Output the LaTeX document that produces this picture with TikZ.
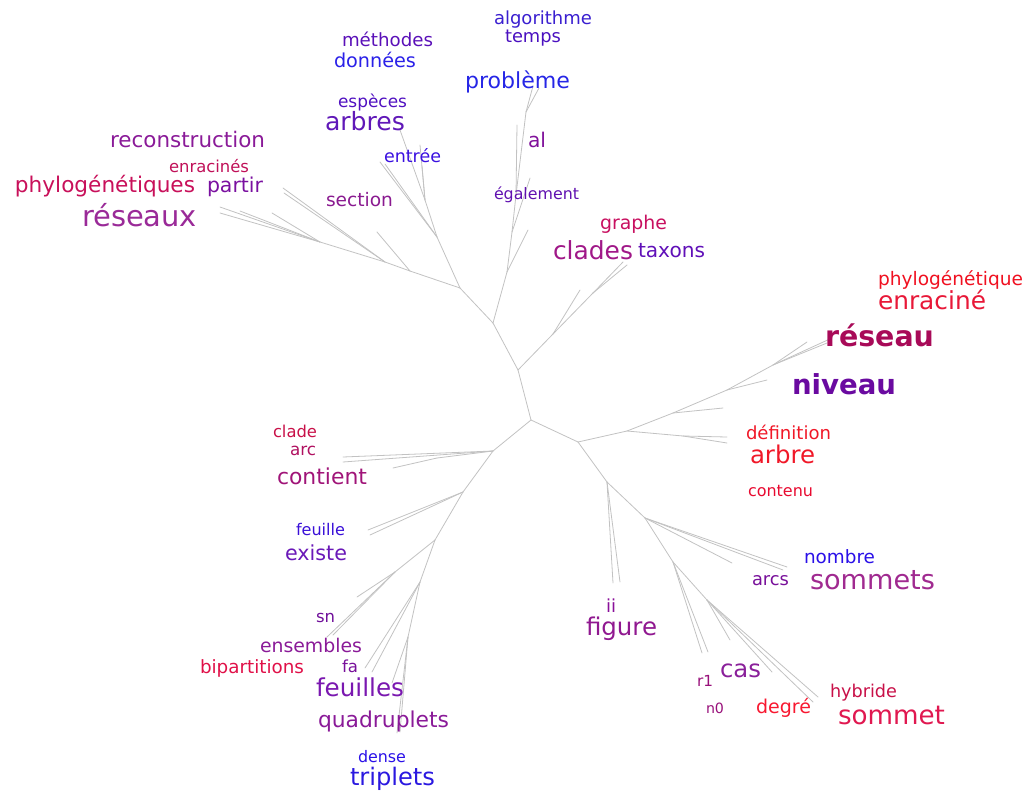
\documentclass[tikz,border=0pt]{standalone}
\usepackage{fontspec}
\setmainfont{DejaVu Sans}
\usepackage{graphicx}
\tikzset{
  word/.style={inner sep=0pt, outer sep=0pt, anchor=base west},
  branch/.style={draw=black!24, line width=0.8pt, line cap=round}
}
\newcommand\lbl[6]{\node[word] (#1) at (#2,#3) {\color[HTML]{#5}\resizebox{#4pt}{!}{#6}};}
\begin{document}
\begin{tikzpicture}[x=1pt,y=-1pt]
\useasboundingbox (0,0) rectangle (1026,793);
% ---------- internal nodes ----------
\coordinate (A) at (531,420);
\coordinate (B) at (518,370);
\coordinate (C) at (578,442);
\coordinate (N1) at (493,451);
\coordinate (T) at (493,323);
\coordinate (K1) at (553,334);
\coordinate (K2) at (593,293);
\coordinate (U1) at (507,272);
\coordinate (U2) at (512,232);
\coordinate (U3) at (516,195);
\coordinate (U4) at (526,112);
\coordinate (L1) at (460,288);
\coordinate (L2) at (410,271);
\coordinate (L3) at (385,262);
\coordinate (L4) at (320,242);
\coordinate (L5) at (437,237);
\coordinate (L6) at (425,200);
\coordinate (R1) at (627,431);
\coordinate (R1b) at (683,436);
\coordinate (R2) at (673,413);
\coordinate (R3) at (727,390);
\coordinate (R4) at (773,365);
\coordinate (D1) at (607,482);
\coordinate (D2) at (645,518);
\coordinate (D3) at (673,562);
\coordinate (D4) at (707,600);
\coordinate (N1b) at (437,458);
\coordinate (N2) at (463,492);
\coordinate (N3) at (435,540);
\coordinate (N3b) at (395,572);
\coordinate (N4) at (420,582);
\coordinate (N5) at (408,637);
% ---------- leaves ----------
\coordinate (k1) at (580,290);
\coordinate (k2) at (623,262);
\coordinate (k3) at (627,265);
\coordinate (u1) at (528,230);
\coordinate (u2) at (530,178);
\coordinate (u3) at (517,125);
\coordinate (u4) at (533,86);
\coordinate (u5) at (539,88);
\coordinate (l1) at (377,232);
\coordinate (l2) at (283,188);
\coordinate (l3) at (284,193);
\coordinate (l4) at (272,213);
\coordinate (l5) at (220,207);
\coordinate (l6) at (220,213);
\coordinate (l7) at (240,211);
\coordinate (l8) at (380,162);
\coordinate (l9) at (385,164);
\coordinate (l10) at (400,130);
\coordinate (l11) at (420,145);
\coordinate (l12) at (422,166);
\coordinate (r1) at (727,437);
\coordinate (r2) at (727,443);
\coordinate (r3) at (723,408);
\coordinate (r4) at (767,380);
\coordinate (r5) at (807,342);
\coordinate (r6) at (827,343);
\coordinate (r7) at (832,338);
\coordinate (d1) at (613,583);
\coordinate (d2) at (620,582);
\coordinate (d3) at (787,567);
\coordinate (d4) at (783,570);
\coordinate (d5) at (732,563);
\coordinate (d6) at (702,653);
\coordinate (d7) at (708,652);
\coordinate (d8) at (730,640);
\coordinate (d9) at (772,672);
\coordinate (d10) at (813,702);
\coordinate (d11) at (818,697);
\coordinate (n1) at (343,457);
\coordinate (n2) at (343,462);
\coordinate (n3) at (393,468);
\coordinate (n4) at (368,530);
\coordinate (n5) at (370,535);
\coordinate (n6) at (357,597);
\coordinate (n7) at (327,637);
\coordinate (n8) at (333,635);
\coordinate (n9) at (365,668);
\coordinate (n10) at (372,672);
\coordinate (n11) at (392,683);
\coordinate (n12) at (397,733);
\coordinate (n13) at (400,732);
% ---------- branches ----------
\draw[branch] (A) -- (B);
\draw[branch] (A) -- (C);
\draw[branch] (A) -- (N1);
\draw[branch] (B) -- (T);
\draw[branch] (B) -- (K1);
\draw[branch] (K1) -- (k1);
\draw[branch] (K1) -- (K2);
\draw[branch] (K2) -- (k2);
\draw[branch] (K2) -- (k3);
\draw[branch] (T) -- (U1);
\draw[branch] (U1) -- (u1);
\draw[branch] (U1) -- (U2);
\draw[branch] (U2) -- (u2);
\draw[branch] (U2) -- (U3);
\draw[branch] (U3) -- (u3);
\draw[branch] (U3) -- (U4);
\draw[branch] (U4) -- (u4);
\draw[branch] (U4) -- (u5);
\draw[branch] (T) -- (L1);
\draw[branch] (L1) -- (L2);
\draw[branch] (L2) -- (l1);
\draw[branch] (L2) -- (L3);
\draw[branch] (L3) -- (l2);
\draw[branch] (L3) -- (l3);
\draw[branch] (L3) -- (L4);
\draw[branch] (L4) -- (l4);
\draw[branch] (L4) -- (l5);
\draw[branch] (L4) -- (l6);
\draw[branch] (L4) -- (l7);
\draw[branch] (L1) -- (L5);
\draw[branch] (L5) -- (l8);
\draw[branch] (L5) -- (l9);
\draw[branch] (L5) -- (L6);
\draw[branch] (L6) -- (l10);
\draw[branch] (L6) -- (l11);
\draw[branch] (L6) -- (l12);
\draw[branch] (C) -- (R1);
\draw[branch] (R1) -- (R1b);
\draw[branch] (R1b) -- (r1);
\draw[branch] (R1b) -- (r2);
\draw[branch] (R1) -- (R2);
\draw[branch] (R2) -- (r3);
\draw[branch] (R2) -- (R3);
\draw[branch] (R3) -- (r4);
\draw[branch] (R3) -- (R4);
\draw[branch] (R4) -- (r5);
\draw[branch] (R4) -- (r6);
\draw[branch] (R4) -- (r7);
\draw[branch] (C) -- (D1);
\draw[branch] (D1) -- (d1);
\draw[branch] (D1) -- (d2);
\draw[branch] (D1) -- (D2);
\draw[branch] (D2) -- (d3);
\draw[branch] (D2) -- (d4);
\draw[branch] (D2) -- (d5);
\draw[branch] (D2) -- (D3);
\draw[branch] (D3) -- (d6);
\draw[branch] (D3) -- (d7);
\draw[branch] (D3) -- (D4);
\draw[branch] (D4) -- (d8);
\draw[branch] (D4) -- (d9);
\draw[branch] (D4) -- (d10);
\draw[branch] (D4) -- (d11);
\draw[branch] (N1) -- (n1);
\draw[branch] (N1) -- (n2);
\draw[branch] (N1) -- (N1b);
\draw[branch] (N1b) -- (n3);
\draw[branch] (N1) -- (N2);
\draw[branch] (N2) -- (n4);
\draw[branch] (N2) -- (n5);
\draw[branch] (N2) -- (N3);
\draw[branch] (N3) -- (N3b);
\draw[branch] (N3b) -- (n6);
\draw[branch] (N3b) -- (n7);
\draw[branch] (N3b) -- (n8);
\draw[branch] (N3) -- (N4);
\draw[branch] (N4) -- (n9);
\draw[branch] (N4) -- (n10);
\draw[branch] (N4) -- (N5);
\draw[branch] (N5) -- (n11);
\draw[branch] (N5) -- (n12);
\draw[branch] (N5) -- (n13);
% ---------- words ----------
\lbl{algorithme}{494}{24}{98}{3A1FD0}{algorithme}
\lbl{temps}{505}{42}{56}{4A10C0}{temps}
\lbl{methodes}{342}{46}{91}{5A10B8}{méthodes}
\lbl{donnees}{334}{67}{82}{2A20E8}{données}
\lbl{probleme}{465}{88}{105}{2626E6}{problème}
\lbl{especes}{338}{107}{69}{5010C0}{espèces}
\lbl{arbres}{325}{130}{80}{6018B8}{arbres}
\lbl{reconstruction}{110}{147}{155}{8A1A98}{reconstruction}
\lbl{al}{528}{147}{18}{80109A}{al}
\lbl{enracines}{169}{172}{80}{C01058}{enracinés}
\lbl{entree}{384}{162}{57}{3A10E0}{entrée}
\lbl{phylogenetiques}{15}{192}{180}{C8105A}{phylogénétiques}
\lbl{partir}{207}{192}{56}{7A10A0}{partir}
\lbl{section}{326}{206}{67}{8A1A90}{section}
\lbl{egalement}{494}{199}{85}{6010B0}{également}
\lbl{reseaux}{82}{226}{115}{9A2A98}{réseaux}
\lbl{graphe}{600}{229}{67}{C81060}{graphe}
\lbl{clades}{553}{259}{80}{A01888}{clades}
\lbl{taxons}{638}{257}{67}{6010B8}{taxons}
\lbl{phylogenetique}{878}{285}{145}{F01020}{phylogénétique}
\lbl{enracine}{878}{309}{108}{E81838}{enraciné}
\lbl{reseau}{825}{346}{109}{A80A58}{\bfseries réseau}
\lbl{niveau}{792}{394}{104}{6A0AA0}{\bfseries niveau}
\lbl{definition}{746}{439}{85}{F01828}{définition}
\lbl{arbre}{750}{463}{65}{F01828}{arbre}
\lbl{contenu}{748}{496}{65}{E80A30}{contenu}
\lbl{clade}{273}{437}{44}{C81048}{clade}
\lbl{arc}{290}{455}{26}{B01060}{arc}
\lbl{contient}{277}{484}{90}{A01478}{contient}
\lbl{feuille}{296}{535}{49}{3A10D8}{feuille}
\lbl{existe}{285}{560}{62}{6A18B8}{existe}
\lbl{sn}{316}{622}{19}{70109A}{sn}
\lbl{nombre}{804}{563}{71}{2A10E8}{nombre}
\lbl{sommets}{810}{589}{125}{A02A90}{sommets}
\lbl{arcs}{752}{585}{37}{78109A}{arcs}
\lbl{ii}{606}{612}{10}{8A109A}{ii}
\lbl{figure}{586}{635}{71}{901890}{figure}
\lbl{ensembles}{260}{652}{102}{8A1A98}{ensembles}
\lbl{bipartitions}{200}{673}{104}{E01048}{bipartitions}
\lbl{fa}{342}{672}{16}{78109A}{fa}
\lbl{feuilles}{316}{696}{88}{7A18B0}{feuilles}
\lbl{cas}{720}{677}{41}{8A209A}{cas}
\lbl{rone}{697}{686}{16}{98107A}{r1}
\lbl{hybride}{830}{697}{67}{C81048}{hybride}
\lbl{nzero}{706}{713}{18}{98107A}{n0}
\lbl{degre}{756}{713}{55}{F81830}{degré}
\lbl{sommet}{838}{724}{107}{E01850}{sommet}
\lbl{quadruplets}{318}{727}{131}{8A1A98}{quadruplets}
\lbl{dense}{358}{762}{48}{2A10E8}{dense}
\lbl{triplets}{350}{785}{85}{2A18E0}{triplets}
\end{tikzpicture}
\end{document}
